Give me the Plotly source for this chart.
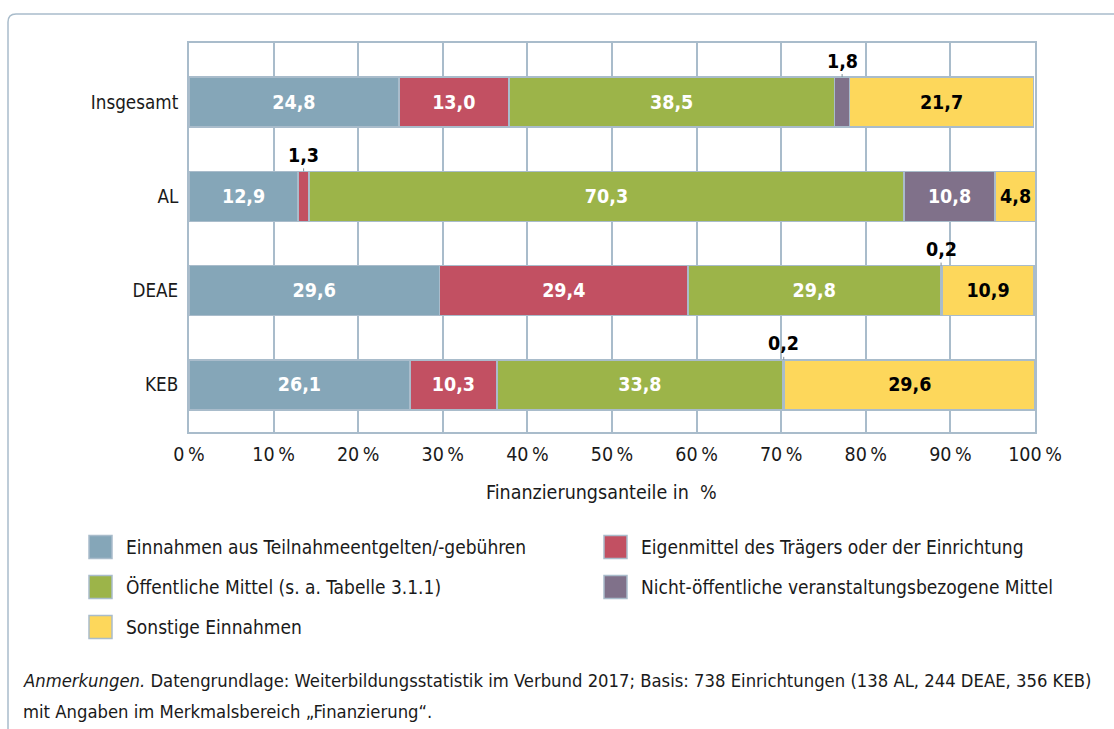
import plotly.graph_objects as go

categories = ["Insgesamt", "AL", "DEAE", "KEB"]
series_names = [
    "Einnahmen aus Teilnahmeentgelten/-gebühren",
    "Eigenmittel des Trägers oder der Einrichtung",
    "Öffentliche Mittel (s. a. Tabelle 3.1.1)",
    "Nicht-öffentliche veranstaltungsbezogene Mittel",
    "Sonstige Einnahmen",
]
teilnahme = [24.8, 12.9, 29.6, 26.1]
eigenmittel = [13.0, 1.3, 29.4, 10.3]
oeffentlich = [38.5, 70.3, 29.8, 33.8]
nicht_oeffentlich = [1.8, 10.8, 0.2, 0.2]
sonstige = [21.7, 4.8, 10.9, 29.6]
series_values = [teilnahme, eigenmittel, oeffentlich, nicht_oeffentlich, sonstige]
x_ticks = [0, 10, 20, 30, 40, 50, 60, 70, 80, 90, 100]
x_tick_labels = [f"{t}\u2009%" for t in x_ticks]
axis_title = "Finanzierungsanteile in  %"
note_line1 = ("<i>Anmerkungen.</i> Datengrundlage: Weiterbildungsstatistik im Verbund 2017; "
              "Basis: 738 Einrichtungen (138 AL, 244 DEAE, 356 KEB)")
note_line2 = "mit Angaben im Merkmalsbereich „Finanzierung“."

colors = ["#85a6b8", "#c25062", "#9cb449", "#80718a", "#fdd75b"]
text_colors = ["white", "white", "white", "white", "black"]
FONT = "DejaVu Sans Condensed, DejaVu Sans, sans-serif"
FS = 19.5
BORDER = "#a9bccb"
TXT = "#1a1a1a"

W, H = 1114, 729
L, R, T, B = 189, 1035, 43, 432


def px(x):
    return (x - L) / (R - L)


def py(y):
    return (B - y) / (B - T)


def fmt(v):
    return f"{v:.1f}".replace(".", ",")


fig = go.Figure()
for name, vals, col, tcol in zip(series_names, series_values, colors, text_colors):
    fig.add_trace(go.Bar(
        y=categories, x=vals, name=name, orientation="h",
        marker=dict(color=col, line=dict(color=BORDER, width=1.5)),
        text=[fmt(v) if v >= 3 else "" for v in vals],
        textposition="inside", insidetextanchor="middle", textangle=0,
        textfont=dict(family=FONT, size=FS, color=tcol, weight="bold"),
        constraintext="none", width=0.53, showlegend=False,
        hoverinfo="skip",
    ))

annotations = []
# outside labels for small segments
for si, vals in enumerate(series_values):
    for ci, v in enumerate(vals):
        if v < 3:
            start = sum(series_values[k][ci] for k in range(si))
            annotations.append(dict(
                x=start + v / 2, y=categories[ci], xref="x", yref="y",
                text=f"<b>{fmt(v)}</b>", showarrow=True, ax=0, ay=-41,
                standoff=25, arrowhead=0, arrowwidth=1, arrowcolor="#7f8e99",
                font=dict(family=FONT, size=FS, color="black"),
            ))

annotations.append(dict(x=px(601), y=py(492), xref="paper", yref="paper",
                        xanchor="center", yanchor="middle",
                        text=axis_title, showarrow=False,
                        font=dict(family=FONT, size=FS, color=TXT)))

shapes = []
# legend (manual, two columns)
LFS = 19
leg_pos = [(89, 547), (604, 547), (89, 587), (604, 587), (89, 627)]
for (lx, ly), name, col in zip(leg_pos, series_names, colors):
    shapes.append(dict(type="rect", xref="paper", yref="paper",
                       x0=px(lx), x1=px(lx + 23), y0=py(ly - 11.5), y1=py(ly + 11.5),
                       fillcolor=col, line=dict(color=BORDER, width=1.5)))
    annotations.append(dict(x=px(lx + 35), y=py(ly), xref="paper", yref="paper",
                            xanchor="left", yanchor="middle", text=name, showarrow=False,
                            font=dict(family=FONT, size=LFS, color=TXT)))

annotations.append(dict(x=px(21), y=py(680), xref="paper", yref="paper",
                        xanchor="left", yanchor="middle", text=note_line1, showarrow=False,
                        font=dict(family=FONT, size=18.3, color=TXT)))
annotations.append(dict(x=px(21), y=py(711), xref="paper", yref="paper",
                        xanchor="left", yanchor="middle", text=note_line2, showarrow=False,
                        font=dict(family=FONT, size=18.3, color=TXT)))

# frame with rounded top-left corner
x8, x16, xr = px(8), px(16), px(1120)
y14, y22, yb = py(14), py(22), py(740)
shapes.append(dict(type="path", xref="paper", yref="paper",
                   path=f"M {x8},{yb} L {x8},{y22} Q {x8},{y14} {x16},{y14} L {xr},{y14}",
                   line=dict(color=BORDER, width=1.5)))

fig.update_layout(
    width=W, height=H,
    margin=dict(l=L, r=W - R, t=T, b=H - B, pad=0),
    paper_bgcolor="white", plot_bgcolor="white",
    barmode="stack",
    font=dict(family=FONT, size=FS, color=TXT),
    xaxis=dict(range=[0, 100], tickvals=x_ticks, ticktext=x_tick_labels,
               showgrid=True, gridcolor=BORDER, gridwidth=1.5,
               showline=True, linecolor=BORDER, linewidth=2, mirror=True,
               ticks="", zeroline=False, fixedrange=True, ticklabelstandoff=4,
               tickfont=dict(family=FONT, size=FS, color=TXT)),
    yaxis=dict(type="category", categoryorder="array", categoryarray=categories,
               range=[3.5, -0.626], showgrid=False, fixedrange=True,
               showline=True, linecolor=BORDER, linewidth=2, mirror=True,
               ticks="", ticklabelstandoff=5,
               tickfont=dict(family=FONT, size=18.7, color=TXT)),
    annotations=annotations, shapes=shapes,
)
fig.write_html("out.html", config={"displayModeBar": False},
               post_script="document.body.style.margin='0';")
